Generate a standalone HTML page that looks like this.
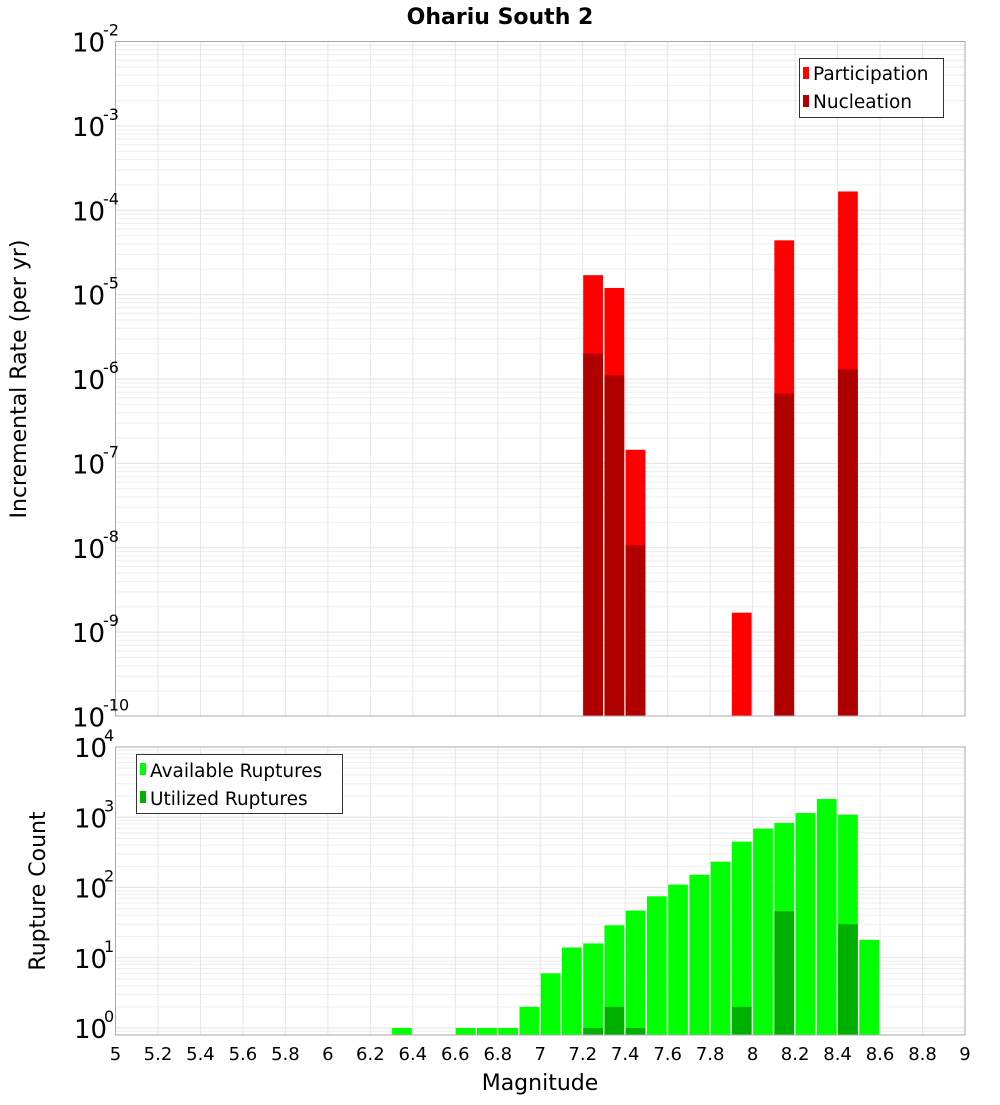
<!DOCTYPE html>
<html><head><meta charset="utf-8"><style>
body{margin:0;background:#fff;width:1000px;height:1100px;overflow:hidden}
svg{font-family:"DejaVu Sans","Liberation Sans",sans-serif}
</style></head><body>
<svg id="c" width="1000" height="1100" xmlns="http://www.w3.org/2000/svg">
<text x="500" y="24" text-anchor="middle" font-size="22" font-weight="bold">Ohariu South 2</text>
<g id="topplot"></g>
<g id="botplot"></g>
<text transform="translate(26,379) rotate(-90)" text-anchor="middle" font-size="22">Incremental Rate (per yr)</text>
<text transform="translate(45,891) rotate(-90)" text-anchor="middle" font-size="22">Rupture Count</text>
<text x="540" y="1090" text-anchor="middle" font-size="22">Magnitude</text>
<g>
<rect x="799.5" y="58.5" width="144" height="59" fill="#fff" stroke="#333"/>
<rect x="803" y="67" width="6" height="12" fill="#ff0000"/>
<text x="813" y="80" font-size="18.5">Participation</text>
<rect x="803" y="95" width="6" height="12" fill="#b00000"/>
<text x="813" y="108" font-size="18.5">Nucleation</text>
</g>
<g>
<rect x="136.5" y="754.5" width="206" height="59" fill="#fff" stroke="#333"/>
<rect x="140" y="763" width="6" height="12" fill="#00ff00"/>
<text x="150" y="777" font-size="18.5">Available Ruptures</text>
<rect x="140" y="791" width="6" height="12" fill="#00b000"/>
<text x="150" y="805" font-size="18.5">Utilized Ruptures</text>
</g>
</svg>
<script>
const partMags=[7.25,7.35,7.45,7.95,8.15,8.45];
const partVals=[1.7e-5,1.2e-5,1.45e-7,1.7e-9,4.4e-5,1.67e-4];
const nuclMags=[7.25,7.35,7.45,8.15,8.45];
const nuclVals=[2e-6,1.1e-6,1.07e-8,6.7e-7,1.3e-6];
const availMags=[6.35,6.65,6.75,6.85,6.95,7.05,7.15,7.25,7.35,7.45,7.55,7.65,7.75,7.85,7.95,8.05,8.15,8.25,8.35,8.45,8.55];
const availVals=[1,1,1,1,2,6,14,16,29,47,75,110,152,233,450,690,830,1150,1820,1090,18];
const utilMags=[7.25,7.35,7.45,7.95,8.15,8.45];
const utilVals=[1,2,1,2,46,30];
const xTicks=[5,5.2,5.4,5.6,5.8,6,6.2,6.4,6.6,6.8,7,7.2,7.4,7.6,7.8,8,8.2,8.4,8.6,8.8,9];
const topExps=[-2,-3,-4,-5,-6,-7,-8,-9,-10];
const botExps=[4,3,2,1,0];
const NS="http://www.w3.org/2000/svg";
const X0=115.5,X1=965;
const xs=m=>X0+(m-5)/4*(X1-X0);
const yT=v=>41.5+(-2-Math.log10(v))*84.375;
const yB=v=>747+(4-Math.log10(v))*70.25;
function el(p,t,a){const e=document.createElementNS(NS,t);for(const k in a)e.setAttribute(k,a[k]);p.appendChild(e);return e;}
function grid(g,t0,b0,yf,lo,hi){
  for(let d=lo;d<hi;d++)for(let k=1;k<10;k++){const yy=yf(k*Math.pow(10,d));if(yy<t0||yy>b0)continue;
    const l=el(g,'line',{x1:X0,x2:X1,y1:yy,y2:yy,stroke:k==1?'#e2e2e2':'#eeeeee','stroke-width':1});
    
    }
  xTicks.forEach(t=>{const l=el(g,'line',{x1:xs(t),x2:xs(t),y1:t0,y2:b0,stroke:'#e6e6e6'});
    
    });
}
function bars(g,mags,vals,yf,base,fill,name){
  mags.forEach((m,i)=>{const y0=yf(vals[i]);const r=el(g,'rect',{x:xs(m-0.05)+0.5,y:y0,width:xs(m+0.05)-xs(m-0.05)-1.5,height:base-y0,fill:fill});
    
    });
}
const topG=document.getElementById('topplot'),botG=document.getElementById('botplot');
grid(topG,41.5,716,yT,-10,-2);
bars(topG,partMags,partVals,yT,716,'#ff0000','bar-participation');
bars(topG,nuclMags,nuclVals,yT,716,'#b00000','bar-nucleation');
el(topG,'rect',{x:X0,y:41.5,width:X1-X0,height:716-41.5,fill:'none',stroke:'#aaa'});
topExps.forEach(e=>{const yy=yT(Math.pow(10,e));
  const t=el(topG,'text',{x:72,y:yy+10,'font-size':26});t.textContent='10';
  
  
  const s=el(topG,'text',{x:103,y:yy-6,'font-size':16});s.textContent=String(e);
  
  });
grid(botG,747,1035,yB,-1,4);
bars(botG,availMags,availVals,yB,1035,'#00ff00','bar-available');
bars(botG,utilMags,utilVals,yB,1035,'#00b000','bar-utilized');
el(botG,'rect',{x:X0,y:747,width:X1-X0,height:1035-747,fill:'none',stroke:'#aaa'});
botExps.forEach(e=>{const yy=yB(Math.pow(10,e));
  const t=el(botG,'text',{x:74,y:yy+10,'font-size':26});t.textContent='10';
  
  
  const s=el(botG,'text',{x:104,y:yy-6,'font-size':16});s.textContent=String(e);
  
  });
xTicks.forEach(t=>{const tx=el(botG,'text',{x:xs(t),y:1060,'font-size':18,'text-anchor':'middle'});tx.textContent=String(t);
  
  });
</script>
</body></html>
